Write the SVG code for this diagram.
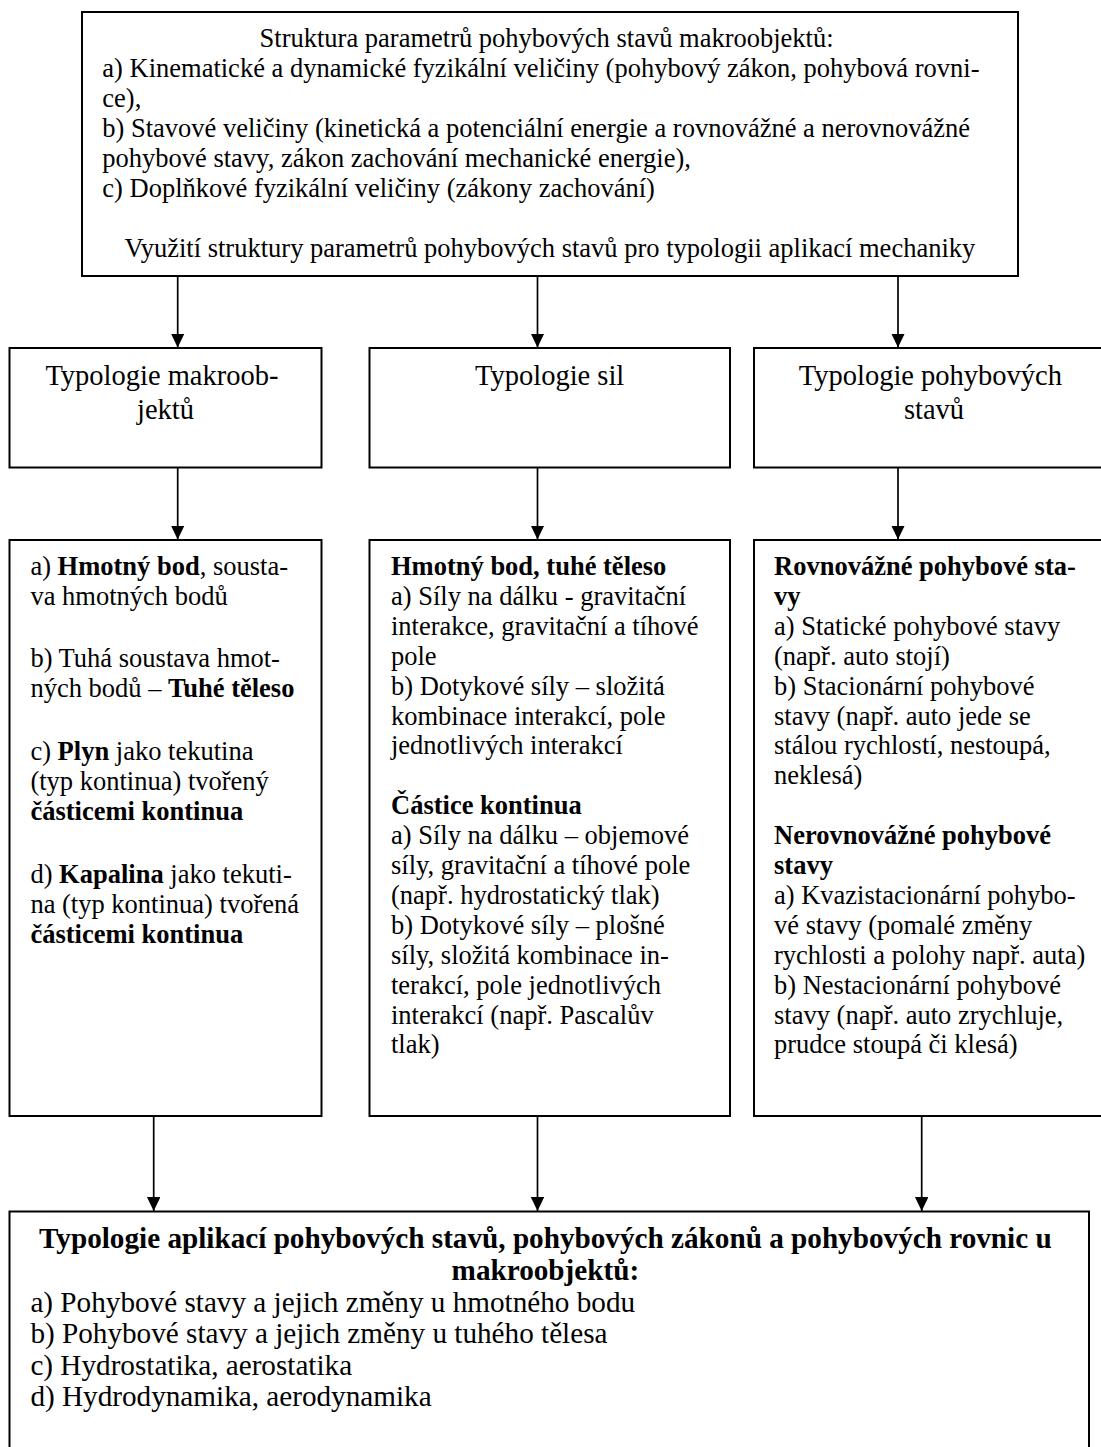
<svg xmlns="http://www.w3.org/2000/svg" width="1101" height="1447" viewBox="0 0 1101 1447">
  <defs>
    <marker id="arrow" markerUnits="userSpaceOnUse" markerWidth="14" markerHeight="14" refX="14" refY="6.75" orient="auto">
      <path d="M0,0 L14,6.75 L0,13.5 Z" fill="#000"/>
    </marker>
    <style>
      .box { fill: #fff; stroke: #000; stroke-width: 2; }
      .edge { fill: none; stroke: #000; stroke-width: 1.7; marker-end: url(#arrow); }
      text { font-family: "Liberation Serif", "Times New Roman", serif; fill: #000; }
      .body { font-size: 26.5px; }
      .head { font-size: 28.5px; text-anchor: middle; }
      .big { font-size: 29.2px; }
      .mid { text-anchor: middle; }
      .b { font-weight: bold; }
    </style>
  </defs>

  <rect width="1101" height="1447" fill="#fff"/>

  <!-- connectors -->
  <g id="connectors">
    <line class="edge" x1="177.7" y1="276" x2="177.7" y2="347.5"/>
    <line class="edge" x1="537.5" y1="276" x2="537.5" y2="347.5"/>
    <line class="edge" x1="898" y1="276" x2="898" y2="347.5"/>
    <line class="edge" x1="177.7" y1="467.5" x2="177.7" y2="539.5"/>
    <line class="edge" x1="537.5" y1="467.5" x2="537.5" y2="539.5"/>
    <line class="edge" x1="898" y1="467.5" x2="898" y2="539.5"/>
    <line class="edge" x1="153.7" y1="1116" x2="153.7" y2="1211"/>
    <line class="edge" x1="537.5" y1="1116" x2="537.5" y2="1211"/>
    <line class="edge" x1="921.7" y1="1116" x2="921.7" y2="1211"/>
  </g>

  <!-- structure of motion-state parameters -->
  <g id="parametry">
    <rect class="box" x="82" y="12" width="936" height="264"/>
    <text class="body">
      <tspan class="mid" x="549.9" y="47">Struktura parametrů pohybových stavů makroobjektů:</tspan>
      <tspan x="102.3" y="77">a) Kinematické a dynamické fyzikální veličiny (pohybový zákon, pohybová rovni-</tspan>
      <tspan x="102.3" y="107">ce),</tspan>
      <tspan x="102.3" y="137">b) Stavové veličiny (kinetická a potenciální energie a rovnovážné a nerovnovážné</tspan>
      <tspan x="102.3" y="167">pohybové stavy, zákon zachování mechanické energie),</tspan>
      <tspan x="102.3" y="197">c) Doplňkové fyzikální veličiny (zákony zachování)</tspan>
    </text>
    <text class="body mid" x="549.9" y="257">Využití struktury parametrů pohybových stavů pro typologii aplikací mechaniky</text>
  </g>

  <!-- second row: typologies -->
  <g id="typ-makroobjektu">
    <rect class="box" x="9.5" y="348" width="312" height="119.5"/>
    <text class="head">
      <tspan x="165.5" y="385">Typologie makroob-</tspan>
      <tspan x="165.5" y="418.7">jektů</tspan>
    </text>
  </g>

  <g id="typ-sil">
    <rect class="box" x="369.5" y="348" width="360.5" height="119.5"/>
    <text class="head" x="549.7" y="385">Typologie sil</text>
  </g>

  <g id="typ-stavu">
    <rect class="box" x="754" y="348" width="360" height="119.5"/>
    <text class="head">
      <tspan x="934" y="385">Typologie pohybových</tspan>
      <tspan x="934" y="418.7">stavů</tspan>
    </text>
  </g>

  <!-- third row: details -->
  <g id="makroobjekty">
    <rect class="box" x="9.5" y="540" width="312" height="576"/>
    <text class="body">
      <tspan x="30.4" y="575">a) <tspan class="b">Hmotný bod</tspan>, sousta-</tspan>
      <tspan x="30.4" y="605">va hmotných bodů</tspan>
      <tspan x="30.4" y="667">b) Tuhá soustava hmot-</tspan>
      <tspan x="30.4" y="697">ných bodů – <tspan class="b">Tuhé těleso</tspan></tspan>
      <tspan x="30.4" y="760">c) <tspan class="b">Plyn</tspan> jako tekutina</tspan>
      <tspan x="30.4" y="790">(typ kontinua) tvořený</tspan>
      <tspan x="30.4" y="820" class="b">částicemi kontinua</tspan>
      <tspan x="30.4" y="883">d) <tspan class="b">Kapalina</tspan> jako tekuti-</tspan>
      <tspan x="30.4" y="913">na (typ kontinua) tvořená</tspan>
      <tspan x="30.4" y="943" class="b">částicemi kontinua</tspan>
    </text>
  </g>

  <g id="sily">
    <rect class="box" x="369.5" y="540" width="360.5" height="576"/>
    <text class="body">
      <tspan x="391" y="575" class="b">Hmotný bod, tuhé těleso</tspan>
      <tspan x="391" y="604.9">a) Síly na dálku - gravitační</tspan>
      <tspan x="391" y="634.8">interakce, gravitační a tíhové</tspan>
      <tspan x="391" y="664.7">pole</tspan>
      <tspan x="391" y="694.6">b) Dotykové síly – složitá</tspan>
      <tspan x="391" y="724.5">kombinace interakcí, pole</tspan>
      <tspan x="391" y="754.4">jednotlivých interakcí</tspan>
      <tspan x="391" y="814.2" class="b">Částice kontinua</tspan>
      <tspan x="391" y="844.1">a) Síly na dálku – objemové</tspan>
      <tspan x="391" y="874">síly, gravitační a tíhové pole</tspan>
      <tspan x="391" y="903.9">(např. hydrostatický tlak)</tspan>
      <tspan x="391" y="933.8">b) Dotykové síly – plošné</tspan>
      <tspan x="391" y="963.7">síly, složitá kombinace in-</tspan>
      <tspan x="391" y="993.6">terakcí, pole jednotlivých</tspan>
      <tspan x="391" y="1023.5">interakcí (např. Pascalův</tspan>
      <tspan x="391" y="1053.4">tlak)</tspan>
    </text>
  </g>

  <g id="stavy">
    <rect class="box" x="754" y="540" width="360" height="576"/>
    <text class="body">
      <tspan x="774" y="575" class="b">Rovnovážné pohybové sta-</tspan>
      <tspan x="774" y="604.9" class="b">vy</tspan>
      <tspan x="774" y="634.8">a) Statické pohybové stavy</tspan>
      <tspan x="774" y="664.7">(např. auto stojí)</tspan>
      <tspan x="774" y="694.6">b) Stacionární pohybové</tspan>
      <tspan x="774" y="724.5">stavy (např. auto jede se</tspan>
      <tspan x="774" y="754.4">stálou rychlostí, nestoupá,</tspan>
      <tspan x="774" y="784.3">neklesá)</tspan>
      <tspan x="774" y="844.1" class="b">Nerovnovážné pohybové</tspan>
      <tspan x="774" y="874" class="b">stavy</tspan>
      <tspan x="774" y="903.9">a) Kvazistacionární pohybo-</tspan>
      <tspan x="774" y="933.8">vé stavy (pomalé změny</tspan>
      <tspan x="774" y="963.7">rychlosti a polohy např. auta)</tspan>
      <tspan x="774" y="993.6">b) Nestacionární pohybové</tspan>
      <tspan x="774" y="1023.5">stavy (např. auto zrychluje,</tspan>
      <tspan x="774" y="1053.4">prudce stoupá či klesá)</tspan>
    </text>
  </g>

  <!-- applications -->
  <g id="aplikace">
    <rect class="box" x="9.5" y="1211.5" width="1079.5" height="300"/>
    <text class="big">
      <tspan class="b mid" x="549" y="1248.3">Typologie aplikací pohybových stavů, pohybových zákonů a pohybových rovnic u</tspan>
      <tspan class="b mid" x="549" y="1279.9">makroobjektů:</tspan>
      <tspan x="30.4" y="1311.5">a) Pohybové stavy a jejich změny u hmotného bodu</tspan>
      <tspan x="30.4" y="1343.1">b) Pohybové stavy a jejich změny u tuhého tělesa</tspan>
      <tspan x="30.4" y="1374.7">c) Hydrostatika, aerostatika</tspan>
      <tspan x="30.4" y="1406.3">d) Hydrodynamika, aerodynamika</tspan>
    </text>
  </g>
</svg>
